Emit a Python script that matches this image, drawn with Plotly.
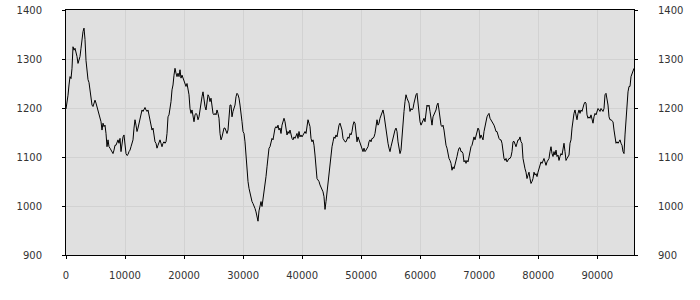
import numpy as np
import plotly.graph_objects as go

# x sampling: one reading per ~169.4 data units, starting at 0
X_START = 0
X_STEP = 169.4

values = [
    # 0 .. ~15400
    1198, 1210, 1226, 1247, 1264, 1260, 1281, 1325, 1318, 1322, 1315, 1305, 1291, 1298, 1305, 1322,
    1342, 1356, 1363, 1340, 1297, 1272, 1258, 1252, 1233, 1213, 1206, 1203, 1210, 1216, 1210, 1203,
    1193, 1186, 1179, 1172, 1155, 1169, 1162, 1165, 1148, 1121, 1135, 1121, 1118, 1114, 1111, 1107,
    1114, 1124, 1124, 1128, 1135, 1128, 1138, 1111, 1128, 1141, 1145, 1118, 1107, 1103, 1105, 1111,
    1114, 1121, 1128, 1135, 1159, 1176, 1165, 1152, 1159, 1169, 1176, 1189, 1196, 1193, 1199, 1201,
    1196, 1193, 1196, 1186, 1172, 1165, 1155, 1159, 1138, 1131, 1128, 1118,
    # ~15600 .. ~31300
    1124, 1131, 1135, 1128, 1121, 1128, 1131, 1128, 1131, 1148, 1182, 1186, 1196, 1213, 1237, 1247,
    1267, 1281, 1271, 1264, 1271, 1264, 1278, 1261, 1267, 1261, 1257, 1250, 1244, 1250, 1240, 1227,
    1199, 1189, 1196, 1186, 1172, 1186, 1189, 1186, 1176, 1182, 1199, 1216, 1223, 1233, 1210, 1203,
    1196, 1216, 1227, 1223, 1213, 1220, 1206, 1189, 1186, 1189, 1186, 1196, 1189, 1179, 1148, 1135,
    1141, 1148, 1159, 1159, 1152, 1148, 1155, 1182, 1206, 1206, 1182, 1193, 1199, 1206, 1223, 1230,
    1227, 1220, 1206, 1193, 1172, 1152, 1148, 1131, 1103, 1063, 1050, 1036, 1026, 1019,
    # ~31500 .. ~47100
    1009, 1005, 1001, 995, 988, 978, 969, 990, 1003, 1009, 999, 1012, 1029, 1043, 1060, 1080,
    1104, 1118, 1121, 1131, 1138, 1135, 1152, 1159, 1162, 1159, 1165, 1155, 1159, 1148, 1165, 1176,
    1179, 1172, 1159, 1145, 1152, 1148, 1155, 1145, 1138, 1135, 1141, 1138, 1145, 1148, 1138, 1152,
    1141, 1145, 1141, 1145, 1148, 1152, 1148, 1162, 1176, 1169, 1162, 1138, 1131, 1135, 1124, 1104,
    1080, 1056, 1053, 1050, 1043, 1039, 1036, 1029, 1019, 993, 1009, 1029, 1046, 1063, 1080, 1097,
    1121, 1131, 1141, 1138, 1145, 1141, 1155, 1165, 1169, 1162, 1155, 1138, 1135, 1131,
    # ~47400 .. ~63000
    1131, 1135, 1141, 1138, 1148, 1145, 1152, 1165, 1172, 1169, 1141, 1131, 1141, 1135, 1128, 1121,
    1118, 1111, 1118, 1111, 1114, 1118, 1121, 1131, 1135, 1131, 1138, 1138, 1141, 1148, 1165, 1176,
    1165, 1169, 1179, 1186, 1193, 1196, 1186, 1169, 1155, 1138, 1128, 1118, 1111, 1121, 1131, 1138,
    1145, 1155, 1159, 1152, 1131, 1121, 1107, 1114, 1145, 1176, 1193, 1213, 1227, 1220, 1213, 1210,
    1193, 1199, 1196, 1199, 1210, 1220, 1227, 1230, 1206, 1186, 1172, 1165, 1169, 1172, 1179, 1172,
    1199, 1206, 1203, 1206, 1193, 1179, 1165, 1182, 1186, 1189, 1196, 1206, 1210, 1196,
    # ~63300 .. ~79000
    1179, 1165, 1162, 1165, 1155, 1138, 1124, 1118, 1104, 1097, 1093, 1087, 1073, 1080, 1076, 1087,
    1090, 1101, 1111, 1118, 1119, 1111, 1111, 1107, 1090, 1093, 1087, 1093, 1090, 1101, 1111, 1121,
    1124, 1131, 1141, 1135, 1145, 1152, 1159, 1155, 1138, 1145, 1138, 1135, 1152, 1165, 1176, 1182,
    1186, 1189, 1179, 1176, 1172, 1169, 1165, 1159, 1152, 1152, 1141, 1138, 1135, 1135, 1128, 1111,
    1097, 1093, 1097, 1090, 1093, 1097, 1097, 1101, 1111, 1131, 1132, 1128, 1121, 1128, 1135, 1135,
    1141, 1131, 1128, 1097, 1083, 1076, 1069, 1056, 1063, 1069, 1056, 1046, 1050, 1056,
    # ~79200 .. end
    1069, 1063, 1066, 1060, 1069, 1076, 1087, 1090, 1087, 1093, 1097, 1090, 1083, 1090, 1093, 1097,
    1111, 1121, 1107, 1101, 1111, 1104, 1114, 1101, 1104, 1093, 1101, 1107, 1104, 1121, 1128, 1111,
    1093, 1097, 1101, 1104, 1128, 1135, 1159, 1182, 1189, 1196, 1186, 1176, 1189, 1196, 1189, 1196,
    1193, 1203, 1208, 1212, 1210, 1186, 1179, 1182, 1179, 1186, 1176, 1169, 1182, 1189, 1186, 1193,
    1199, 1196, 1193, 1199, 1196, 1193, 1199, 1227, 1230, 1220, 1206, 1182, 1176, 1176, 1174, 1172,
    1155, 1138, 1128, 1131, 1128, 1131, 1135, 1128, 1124, 1111, 1107, 1145, 1179, 1213, 1233, 1244,
    1244, 1264, 1271, 1274, 1281,
]

x_ticks = [0, 10000, 20000, 30000, 40000, 50000, 60000, 70000, 80000, 90000]
y_ticks = [900, 1000, 1100, 1200, 1300, 1400]

xs = X_START + np.arange(len(values)) * X_STEP

FONT = dict(family="DejaVu Sans", size=10, color="#333333")
GRID = "#d2d2d2"

fig = go.Figure()
fig.add_trace(go.Scatter(x=xs, y=values, mode="lines",
                         line=dict(color="black", width=1), showlegend=False,
                         hoverinfo="skip"))
# anchor for the mirrored right-hand value axis (draws nothing)
fig.add_trace(go.Scatter(x=[None], y=[None], yaxis="y2", mode="lines",
                         showlegend=False, hoverinfo="skip"))

fig.update_layout(
    width=700, height=300,
    margin=dict(l=66, r=66, t=10, b=45, autoexpand=False),
    paper_bgcolor="white", plot_bgcolor="#e0e0e0",
    font=FONT,
    xaxis=dict(range=[xs[0], xs[-1]], tickvals=x_ticks, ticktext=[str(v) for v in x_ticks],
               showgrid=True, gridcolor=GRID, gridwidth=1, zeroline=False,
               showline=True, linecolor="black", linewidth=1, mirror=True,
               ticks="outside", ticklen=3, tickcolor="black", tickfont=FONT,
               ticklabelstandoff=8, automargin=False),
    yaxis=dict(range=[900, 1400], tickvals=y_ticks, showgrid=True, gridcolor=GRID,
               gridwidth=1, zeroline=False, showline=True, linecolor="black", linewidth=1,
               mirror=True, ticks="outside", ticklen=3, tickcolor="black", tickfont=FONT,
               ticklabelstandoff=18, automargin=False),
    yaxis2=dict(range=[900, 1400], tickvals=y_ticks, overlaying="y", side="right",
                showgrid=False, zeroline=False, showline=True, linecolor="black", linewidth=1,
                ticks="outside", ticklen=3, tickcolor="black", tickfont=FONT,
                ticklabelstandoff=18, automargin=False),
)

fig.write_html("out.html")
